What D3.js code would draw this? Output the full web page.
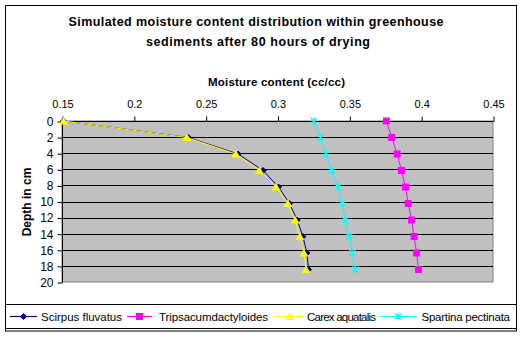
<!DOCTYPE html>
<html><head><meta charset="utf-8">
<script src="https://cdn.jsdelivr.net/npm/d3@7"></script>
<style>
html,body{margin:0;padding:0;background:#fff;}
svg text{font-family:"Liberation Sans",Arial,sans-serif;fill:#000;}
</style></head>
<body>
<svg id="chart" width="521" height="337"></svg>
<script>
const depths = [0, 2.05, 4.1, 6.15, 8.2, 10.25, 12.3, 14.35, 16.4, 18.45];
const scirpus = [0.151, 0.238, 0.2726, 0.290, 0.3007, 0.3084, 0.3137, 0.3177, 0.3205, 0.3216];
const tripsacum = [0.3758, 0.3795, 0.3833, 0.3863, 0.3891, 0.391, 0.3933, 0.3951, 0.3968, 0.3982];
const carex = [0.151, 0.237, 0.271, 0.2874, 0.299, 0.3072, 0.3123, 0.3156, 0.3184, 0.3200];
const spartina = [0.3253, 0.330, 0.3337, 0.3377, 0.3421, 0.3451, 0.3472, 0.350, 0.3521, 0.3542];
const seriesNames = ["Scirpus fluvatus", "Tripsacumdactyloides", "Carex aquatalis", "Spartina pectinata"];
const xTicks = [0.15, 0.2, 0.25, 0.3, 0.35, 0.4, 0.45];
const yTicks = [0, 2, 4, 6, 8, 10, 12, 14, 16, 18, 20];
const titleLines = ["Simulated moisture content distribution within greenhouse", "sediments after 80 hours of drying"];
const xTitle = "Moisture content (cc/cc)";
const yTitle = "Depth in cm";

const svg = d3.select("#chart");
const L = 62, R = 493, T = 121, B = 282;
const x = d3.scaleLinear().domain([0.15, 0.45]).range([L, R]);
const y = d3.scaleLinear().domain([0, 20]).range([T, B]);

// outer border
svg.append("rect").attr("x", 5.5).attr("y", 5.5).attr("width", 511).attr("height", 325.5)
  .attr("fill", "#fff").attr("stroke", "#000").attr("stroke-width", 1);

// title
svg.append("text").attr("x", 256).attr("y", 26).attr("text-anchor", "middle")
  .attr("font-size", 12.5).attr("font-weight", "bold")
  .attr("textLength", 375).attr("lengthAdjust", "spacing").text(titleLines[0]);
svg.append("text").attr("x", 258).attr("y", 46).attr("text-anchor", "middle")
  .attr("font-size", 12.5).attr("font-weight", "bold")
  .attr("textLength", 224).attr("lengthAdjust", "spacing").text(titleLines[1]);

// x title
svg.append("text").attr("x", 276.5).attr("y", 86).attr("text-anchor", "middle")
  .attr("font-size", 11.5).attr("font-weight", "bold")
  .attr("textLength", 137).attr("lengthAdjust", "spacing").text(xTitle);

// y title
svg.append("text").attr("transform", "translate(31,202) rotate(-90)").attr("text-anchor", "middle")
  .attr("font-size", 12).attr("font-weight", "bold").text(yTitle);

// plot area
svg.append("rect").attr("x", L).attr("y", T).attr("width", R - L).attr("height", B - T)
  .attr("fill", "#C0C0C0").attr("stroke", "#808080").attr("stroke-width", 1);

// gridlines
svg.append("g").selectAll("line").data(yTicks.filter(d => d > 0 && d < 20)).join("line")
  .attr("x1", L).attr("x2", R)
  .attr("y1", d => Math.round(y(d)) + 0.5).attr("y2", d => Math.round(y(d)) + 0.5)
  .attr("stroke", "#000").attr("stroke-width", 1);

// axes
const xAxis = d3.axisTop(x).tickValues(xTicks).tickSize(5).tickPadding(9)
  .tickFormat(d => String(+d.toFixed(2)));
const gx = svg.append("g").attr("transform", `translate(0.5,${T + 0.5})`).call(xAxis);
gx.select(".domain").attr("stroke", "#000").attr("d", `M${L},0H${R}`);
gx.selectAll(".tick line").attr("stroke", "#000");
gx.selectAll(".tick text").attr("font-size", 11).attr("font-family", "Liberation Sans, Arial, sans-serif");

const yAxis = d3.axisLeft(y).tickValues(yTicks).tickSize(5).tickPadding(4);
const gy = svg.append("g").attr("transform", `translate(${L + 0.5},0.5)`).call(yAxis);
gy.select(".domain").attr("stroke", "#000").attr("d", `M0,${T}V${B}`);
gy.selectAll(".tick line").attr("stroke", "#000");
gy.selectAll(".tick text").attr("font-size", 12).attr("font-family", "Liberation Sans, Arial, sans-serif");

// series
const series = [
  { name: seriesNames[0], vals: scirpus, color: "#000080", sym: "diamond" },
  { name: seriesNames[1], vals: tripsacum, color: "#FF00FF", sym: "square" },
  { name: seriesNames[2], vals: carex, color: "#FFFF00", sym: "triangle" },
  { name: seriesNames[3], vals: spartina, color: "#00FFFF", sym: "star" }
];

function drawMarker(g, sym, color, cx, cy) {
  if (sym === "diamond") {
    g.append("path").attr("d", `M${cx},${cy - 3}L${cx + 3},${cy}L${cx},${cy + 3}L${cx - 3},${cy}Z`)
      .attr("fill", color).attr("stroke", color);
  } else if (sym === "square") {
    g.append("rect").attr("x", cx - 3.5).attr("y", cy - 3.5).attr("width", 7).attr("height", 7)
      .attr("fill", color).attr("stroke", "none");
  } else if (sym === "triangle") {
    g.append("path").attr("d", `M${cx},${cy - 4}L${cx + 4.5},${cy + 3.5}L${cx - 4.5},${cy + 3.5}Z`)
      .attr("fill", color).attr("stroke", "none");
  } else {
    g.append("path").attr("d", `M${cx - 3},${cy - 3}L${cx + 3},${cy + 3}M${cx - 3},${cy + 3}L${cx + 3},${cy - 3}M${cx},${cy - 3.5}V${cy + 3.5}`)
      .attr("stroke", color).attr("stroke-width", 1.2).attr("fill", "none");
  }
}

const line = d3.line().x(d => x(d[0])).y(d => y(d[1]));
series.forEach(s => {
  const g = svg.append("g");
  const pts = s.vals.map((v, i) => [v, depths[i]]);
  g.append("path").attr("d", line(pts)).attr("fill", "none").attr("stroke", s.color).attr("stroke-width", 1);
  pts.forEach(p => drawMarker(g, s.sym, s.color, x(p[0]), y(p[1])));
});

// legend
svg.append("rect").attr("x", 5.5).attr("y", 304.5).attr("width", 511).attr("height", 24)
  .attr("fill", "#fff").attr("stroke", "#000");
const legendItems = [
  { x1: 10, x2: 37, tx: 41, tw: 81 },
  { x1: 127, x2: 152, tx: 159, tw: 109 },
  { x1: 276, x2: 304, tx: 307, tw: 69 },
  { x1: 379, x2: 417, tx: 421.5, tw: 88.5 }
];
const ly = 316.5;
series.forEach((s, i) => {
  const it = legendItems[i];
  const g = svg.append("g");
  g.append("line").attr("x1", it.x1).attr("x2", it.x2).attr("y1", ly).attr("y2", ly)
    .attr("stroke", s.color).attr("stroke-width", 1.2);
  drawMarker(g, s.sym, s.color, (it.x1 + it.x2) / 2, ly);
  g.append("text").attr("x", it.tx).attr("y", ly + 4).attr("font-size", 11.5)
    .attr("textLength", it.tw).attr("lengthAdjust", "spacing").text(s.name);
});
</script>
</body></html>
